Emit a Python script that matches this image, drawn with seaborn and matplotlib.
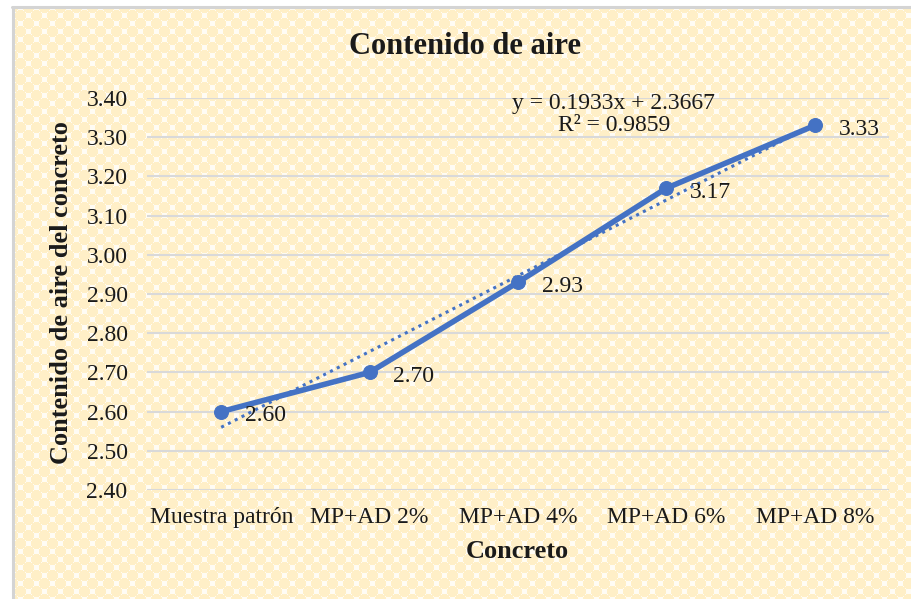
import numpy as np
import pandas as pd
import matplotlib.pyplot as plt
import seaborn as sns
from matplotlib.lines import Line2D

# Data
categorias = ["Muestra patrón", "MP+AD 2%", "MP+AD 4%", "MP+AD 6%", "MP+AD 8%"]
contenido_aire = [2.60, 2.70, 2.93, 3.17, 3.33]
etiquetas = ["2.60", "2.70", "2.93", "3.17", "3.33"]
pendiente = 0.1933
intercepto = 2.3667
r2 = 0.9859
y_ticks = [2.40, 2.50, 2.60, 2.70, 2.80, 2.90, 3.00, 3.10, 3.20, 3.30, 3.40]

sns.set_style("white")
plt.rcParams['font.family'] = ['Liberation Serif', 'DejaVu Serif']

azul = '#4472C4'
texto = '#1a1a1a'
W, H = 911, 599

fig = plt.figure(figsize=(W / 100, H / 100), dpi=100)
fig.patch.set_facecolor('white')

# --- patterned background (yellow dots on a checker, like the Excel fill) ---
bw, bh = W - 12, H - 7
yy, xx = np.mgrid[0:bh, 0:bw]
px, py = xx % 16, yy % 16
d1 = np.hypot(np.minimum(px, 16 - px), np.minimum(py, 16 - py))
d2 = np.hypot(px - 8, py - 8)
mask = np.minimum(d1, d2) < 5.8
tile = np.ones((bh, bw, 3))
tile[mask] = np.array([255, 239, 199]) / 255
tile[~mask] = np.array([255, 252, 244]) / 255
bg = fig.add_axes([12 / W, 0, bw / W, bh / H])
bg.imshow(tile, interpolation='nearest', aspect='auto')
bg.axis('off')
bg.set_zorder(-5)

# grey frame (left and top edges visible)
fig.lines.append(Line2D([12.5 / W, 12.5 / W], [0, 1 - 7 / H], transform=fig.transFigure,
                        color='#D4D4D4', lw=2.2))
fig.lines.append(Line2D([12 / W, 1], [1 - 7 / H, 1 - 7 / H], transform=fig.transFigure,
                        color='#D4D4D4', lw=2.2))

ax = fig.add_axes([147 / W, 109 / H, 742 / W, 392 / H])
ax.set_facecolor('none')

df = pd.DataFrame({'pos': np.arange(len(categorias)), 'aire': contenido_aire})

# linear trendline (dotted)
x_tr = df['pos'].values
ax.plot(x_tr, pendiente * (x_tr + 1) + intercepto, ls=(0, (1, 1.5)),
        color=azul, lw=2.2, zorder=2)

sns.lineplot(data=df, x='pos', y='aire', ax=ax, color=azul, lw=4,
             marker='o', markersize=10, markeredgecolor=azul, zorder=3)

for xp, yv, lab in zip(df['pos'], df['aire'], etiquetas):
    ax.annotate(lab, (xp, yv), xytext=(17, -3), textcoords='offset points',
                ha='left', va='center', fontsize=17, color=texto)

ax.text(0.629, 0.957, f"y = {pendiente}x + {intercepto}\nR² = {r2}",
        transform=ax.transAxes, ha='center', va='center', fontsize=17,
        linespacing=1.05, color=texto)

ax.set_xlim(-0.5, len(categorias) - 0.5)
ax.set_ylim(2.40, 3.40)
ax.set_yticks(y_ticks)
ax.set_yticklabels([f"{t:.2f}" for t in y_ticks])
ax.set_xticks(df['pos'])
ax.set_xticklabels(categorias)
ax.tick_params(axis='both', length=0, labelsize=17, colors=texto)
ax.tick_params(axis='x', pad=12)
ax.tick_params(axis='y', pad=14)
ax.grid(axis='y', color='#D9D9D9', lw=1.5)
ax.grid(axis='x', visible=False)
for s in ax.spines.values():
    s.set_visible(False)
ax.set_xlabel("")
ax.set_ylabel("")

fig.text(517 / W, 1 - 551 / H, "Concreto", ha='center', va='center',
         fontsize=19, fontweight='bold', color=texto)
fig.text(62 / W, 1 - 293 / H, "Contenido de aire del concreto", ha='center',
         va='center', rotation=90, fontsize=19, fontweight='bold', color=texto)
fig.text(465 / W, 1 - 47 / H, "Contenido de aire", ha='center',
         va='center', fontsize=22, fontweight='bold', color=texto)

fig.savefig("out.png", dpi=100)
